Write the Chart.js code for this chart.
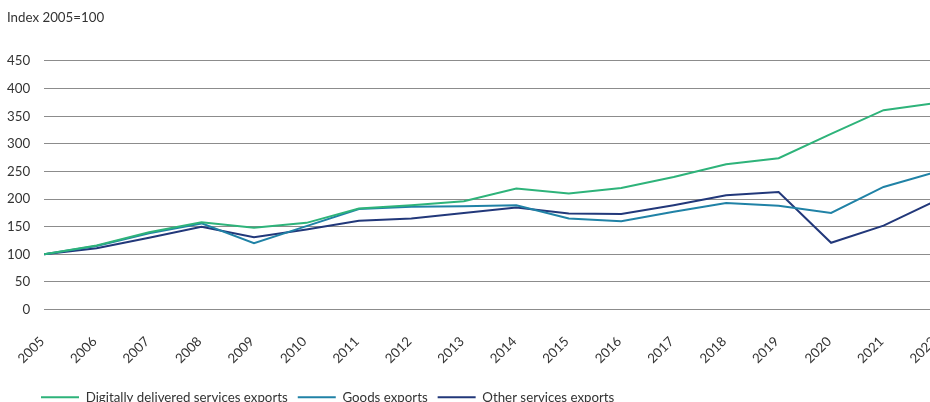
<!DOCTYPE html>
<html><head><meta charset="utf-8">
<script src="https://cdn.jsdelivr.net/npm/chart.js@4/dist/chart.umd.min.js"></script>
<style>html,body{margin:0;padding:0;overflow:hidden;background:#fff;width:930px;height:402px}</style>
</head><body>
<canvas id="c" width="936" height="414" style="width:936px;height:414px;display:block"></canvas>
<script>
const years = ['2005','2006','2007','2008','2009','2010','2011','2012','2013','2014','2015','2016','2017','2018','2019','2020','2021','2022'];
const digital = [100,116,140,158,148,157,183,189,196,219,210,220,240,263,274,318,361,374];
const goods   = [100,115,138,156,120,151,182,186,187,189,165,160,177,193,188,175,222,249];
const other   = [100,111,130,150,131,145,161,165,175,185,174,173,189,207,213,121,152,197];
const seriesNames = ['Digitally delivered services exports','Goods exports','Other services exports'];
const seriesColors = ['#2eb37a','#2082a6','#22387a'];
const yMin = 0, yMax = 450, yStep = 50;
const titleText = 'Index 2005=100';

const FONT = {family:'Lato', size:13.3, weight:'normal'};
const legendShift = {
  id:'legendShift',
  afterLayout(chart){
    const l = chart.legend;
    if (l) { l.left += 24; l.right += 24; }
  }
};

new Chart(document.getElementById('c'), {
  type:'line',
  data:{
    labels: years,
    datasets:[digital, goods, other].map((d,i)=>({
      label: seriesNames[i], data: d, borderColor: seriesColors[i], backgroundColor: seriesColors[i],
      borderWidth: 2, pointRadius: 0, pointHoverRadius: 0, tension: 0, fill: false
    }))
  },
  options:{
    responsive:false, animation:false, devicePixelRatio:1,
    layout:{padding:{left:7, right:0, top:0, bottom:0}},
    plugins:{
      title:{display:true, text:titleText, align:'start', color:'#333', font:FONT, padding:{top:10,bottom:35}},
      legend:{position:'bottom', align:'start',
        labels:{usePointStyle:true, pointStyle:'line', pointStyleWidth:38, padding:10, color:'#333', font:FONT}},
      tooltip:{enabled:false}
    },
    scales:{
      x:{
        grid:{display:false, drawTicks:false}, border:{display:false},
        ticks:{minRotation:45, maxRotation:45, autoSkip:false, padding:24, labelOffset:-2, color:'#333', font:FONT},
        afterFit(s){ s.paddingLeft = 0; s.paddingRight = 0; s.height -= 10; }
      },
      y:{
        min:yMin, max:yMax,
        grid:{color:'#8c8c8c', drawTicks:false, lineWidth:1}, border:{display:false},
        ticks:{stepSize:yStep, padding:14, color:'#333', font:FONT},
        afterFit(s){ s.width -= 14; }
      }
    }
  },
  plugins:[legendShift]
});
</script>
</body></html>
